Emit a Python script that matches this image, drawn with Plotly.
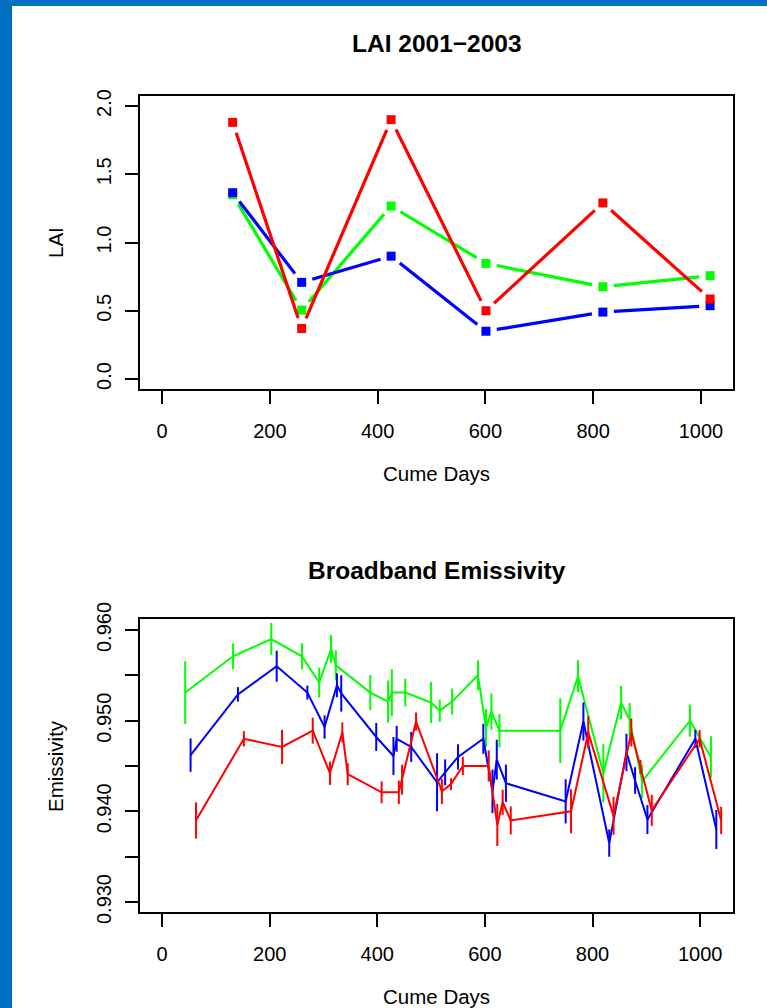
import math
import plotly.graph_objects as go

W, H = 767, 1008

# ---------------- data ----------------
lai_days = [131, 259, 425, 601, 818, 1017]
lai_green = [1.35, 0.505, 1.267, 0.847, 0.676, 0.757]
lai_blue = [1.365, 0.708, 0.90, 0.35, 0.49, 0.537]
lai_red = [1.88, 0.37, 1.90, 0.50, 1.29, 0.586]

em_green_days = [43, 132, 203, 260, 292, 314, 323, 387, 420, 427, 452, 500, 516,
                 539, 587, 602, 612, 627, 740, 773, 820, 853, 869, 892, 981, 1020]
em_green = [0.9531, 0.9571, 0.9590, 0.9571, 0.9542, 0.9579, 0.9561, 0.9531, 0.9521,
            0.9531, 0.9531, 0.9520, 0.9511, 0.9521, 0.9550, 0.9492, 0.9510, 0.9489,
            0.9489, 0.9549, 0.9442, 0.9520, 0.9501, 0.9433, 0.9500, 0.9460]
em_green_err = [0.00345, 0.00143, 0.00177, 0.00143, 0.00165, 0.00154, 0.00165, 0.00193,
                0.00232, 0.0026, 0.00154, 0.00226, 0.00121, 0.00143, 0.00165, 0.0021,
                0.002, 0.00184, 0.00358, 0.00177, 0.0032, 0.00184, 0.00184, 0.00184,
                0.00177, 0.00228]

em_blue_days = [53, 141, 213, 270, 302, 325, 333, 398, 430, 436, 463, 511, 526,
                550, 597, 614, 622, 639, 750, 783, 831, 863, 879, 902, 991, 1030]
em_blue = [0.9462, 0.9529, 0.9560, 0.9531, 0.9493, 0.9539, 0.9530, 0.9482, 0.9461,
           0.9480, 0.9471, 0.9432, 0.9443, 0.9460, 0.9480, 0.9422, 0.9457, 0.9431,
           0.9411, 0.9499, 0.9365, 0.9465, 0.9434, 0.9391, 0.9480, 0.9380]
em_blue_err = [0.00184, 0.0008, 0.00171, 0.00077, 0.00129, 0.00132, 0.002, 0.00154,
               0.0021, 0.00143, 0.00165, 0.0032, 0.00143, 0.0014, 0.00165, 0.0024,
               0.0022, 0.00206, 0.00243, 0.0021, 0.00151, 0.00206, 0.00147, 0.0016,
               0.001, 0.00215]

em_red_days = [63, 152, 223, 280, 312, 335, 345, 408, 440, 446, 472, 520, 537,
               559, 607, 623, 633, 648, 760, 792, 839, 872, 889, 910, 999, 1039]
em_red = [0.9390, 0.9480, 0.9471, 0.9489, 0.9442, 0.9487, 0.9441, 0.9421, 0.9421,
          0.9435, 0.9499, 0.9422, 0.9430, 0.9450, 0.9450, 0.9385, 0.9410, 0.9390,
          0.9400, 0.9487, 0.9395, 0.9487, 0.9449, 0.9401, 0.9480, 0.9390]
em_red_err = [0.002, 0.00085, 0.00188, 0.00143, 0.00129, 0.0011, 0.00121, 0.00121,
              0.00129, 0.00165, 0.001, 0.00138, 0.00066, 0.001, 0.00171, 0.00232,
              0.00138, 0.00154, 0.00243, 0.00177, 0.0021, 0.00154, 0.00077, 0.00171,
              0.00096, 0.00151]

x_ticks = [0, 200, 400, 600, 800, 1000]
lai_ticks = [0.0, 0.5, 1.0, 1.5, 2.0]
lai_ticklabels = ["0.0", "0.5", "1.0", "1.5", "2.0"]
em_ticks = [0.930, 0.935, 0.940, 0.945, 0.950, 0.955, 0.960]
em_ticklabels = ["0.930", "", "0.940", "", "0.950", "", "0.960"]

# ---------------- layout constants ----------------
FONT = "Liberation Sans, Arial, Helvetica, sans-serif"
GREEN, BLUE, RED = "#00FF00", "#0000FF", "#FF0000"
BORDER = "#0070C0"

xdom = [140 / W, 733 / W]
ydom1 = [1 - 389 / H, 1 - 96 / H]
ydom2 = [1 - 912 / H, 1 - 619 / H]
xr1 = [-41, 1059.5]
xr2 = [-41, 1061]
yr1 = [-0.0733, 2.0733]
yr2 = [0.92890, 0.96121]


def gapped(xs, ys, xr, yr, xd, yd, r=11.0):
    """Emulate R's type='b' lines: segments stop short of each point."""
    sx = W * (xd[1] - xd[0]) / (xr[1] - xr[0])
    sy = H * (yd[1] - yd[0]) / (yr[1] - yr[0])
    X, Y = [], []
    for i in range(len(xs) - 1):
        dx = (xs[i + 1] - xs[i]) * sx
        dy = (ys[i + 1] - ys[i]) * sy
        L = math.hypot(dx, dy)
        if L <= 2 * r:
            continue
        f = r / L
        X += [xs[i] + (xs[i + 1] - xs[i]) * f, xs[i + 1] - (xs[i + 1] - xs[i]) * f, None]
        Y += [ys[i] + (ys[i + 1] - ys[i]) * f, ys[i + 1] - (ys[i + 1] - ys[i]) * f, None]
    return X, Y


fig = go.Figure()

for vals, col in [(lai_green, GREEN), (lai_blue, BLUE), (lai_red, RED)]:
    gx, gy = gapped(lai_days, vals, xr1, yr1, xdom, ydom1)
    fig.add_trace(go.Scatter(x=gx, y=gy, mode="lines", line=dict(color=col, width=3.2),
                             xaxis="x", yaxis="y", showlegend=False, hoverinfo="skip"))
    fig.add_trace(go.Scatter(x=lai_days, y=vals, mode="markers",
                             marker=dict(symbol="square", size=9, color=col, line=dict(width=0)),
                             xaxis="x", yaxis="y", showlegend=False))

for d, v, e, col in [(em_green_days, em_green, em_green_err, GREEN),
                     (em_blue_days, em_blue, em_blue_err, BLUE),
                     (em_red_days, em_red, em_red_err, RED)]:
    fig.add_trace(go.Scatter(x=d, y=v, mode="lines", line=dict(color=col, width=2),
                             error_y=dict(type="data", array=e, visible=True, color=col,
                                          thickness=2, width=0),
                             xaxis="x2", yaxis="y2", showlegend=False))

axis_common = dict(showgrid=False, zeroline=False, showline=True, mirror=True,
                   linecolor="black", linewidth=2, ticks="outside", ticklen=13,
                   tickwidth=2, tickcolor="black", automargin=False,
                   tickfont=dict(family=FONT, size=20, color="black"))

fig.update_layout(
    width=W, height=H, autosize=False,
    margin=dict(l=0, r=0, t=0, b=0, pad=0, autoexpand=False),
    paper_bgcolor="white", plot_bgcolor="white",
    showlegend=False,
    xaxis=dict(domain=xdom, range=xr1, tickvals=x_ticks, ticklabelstandoff=10,
               anchor="y", **axis_common),
    yaxis=dict(domain=ydom1, range=yr1, tickvals=lai_ticks, ticktext=lai_ticklabels,
               tickangle=-90, ticklabelstandoff=6, anchor="x", **axis_common),
    xaxis2=dict(domain=xdom, range=xr2, tickvals=x_ticks, ticklabelstandoff=10,
                anchor="y2", **axis_common),
    yaxis2=dict(domain=ydom2, range=yr2, tickvals=em_ticks, ticktext=em_ticklabels,
                tickangle=-90, ticklabelstandoff=6, anchor="x2", **axis_common),
    shapes=[
        dict(type="rect", xref="paper", yref="paper", x0=0, x1=12 / W, y0=0, y1=1,
             fillcolor=BORDER, line=dict(width=0), layer="above"),
        dict(type="rect", xref="paper", yref="paper", x0=0, x1=1, y0=1 - 6 / H, y1=1,
             fillcolor=BORDER, line=dict(width=0), layer="above"),
    ],
)

def ann(text, x, y, size, bold=False, angle=0):
    return dict(text=f"<b>{text}</b>" if bold else text, xref="paper", yref="paper",
                x=x / W, y=1 - y / H, xanchor="center", yanchor="middle",
                showarrow=False, textangle=angle,
                font=dict(family=FONT, size=size, color="black"))

fig.update_layout(annotations=[
    ann("LAI 2001\u22122003", 437, 44, 24.5, bold=True),
    ann("Broadband Emissivity", 437, 570, 24.5, bold=True),
    ann("Cume Days", 436, 473, 20.5),
    ann("Cume Days", 436, 996, 20.5),
    ann("LAI", 55, 243, 20.5, angle=-90),
    ann("Emissivity", 55, 766, 20.5, angle=-90),
])

post = ("document.documentElement.style.margin='0';document.body.style.margin='0';"
        "document.body.style.padding='0';document.body.style.overflow='hidden';"
        "var gd=document.getElementById('{plot_id}');gd.style.position='fixed';"
        "gd.style.top='0px';gd.style.left='0px';")
fig.write_html("out.html", post_script=post, config={"displayModeBar": False})
